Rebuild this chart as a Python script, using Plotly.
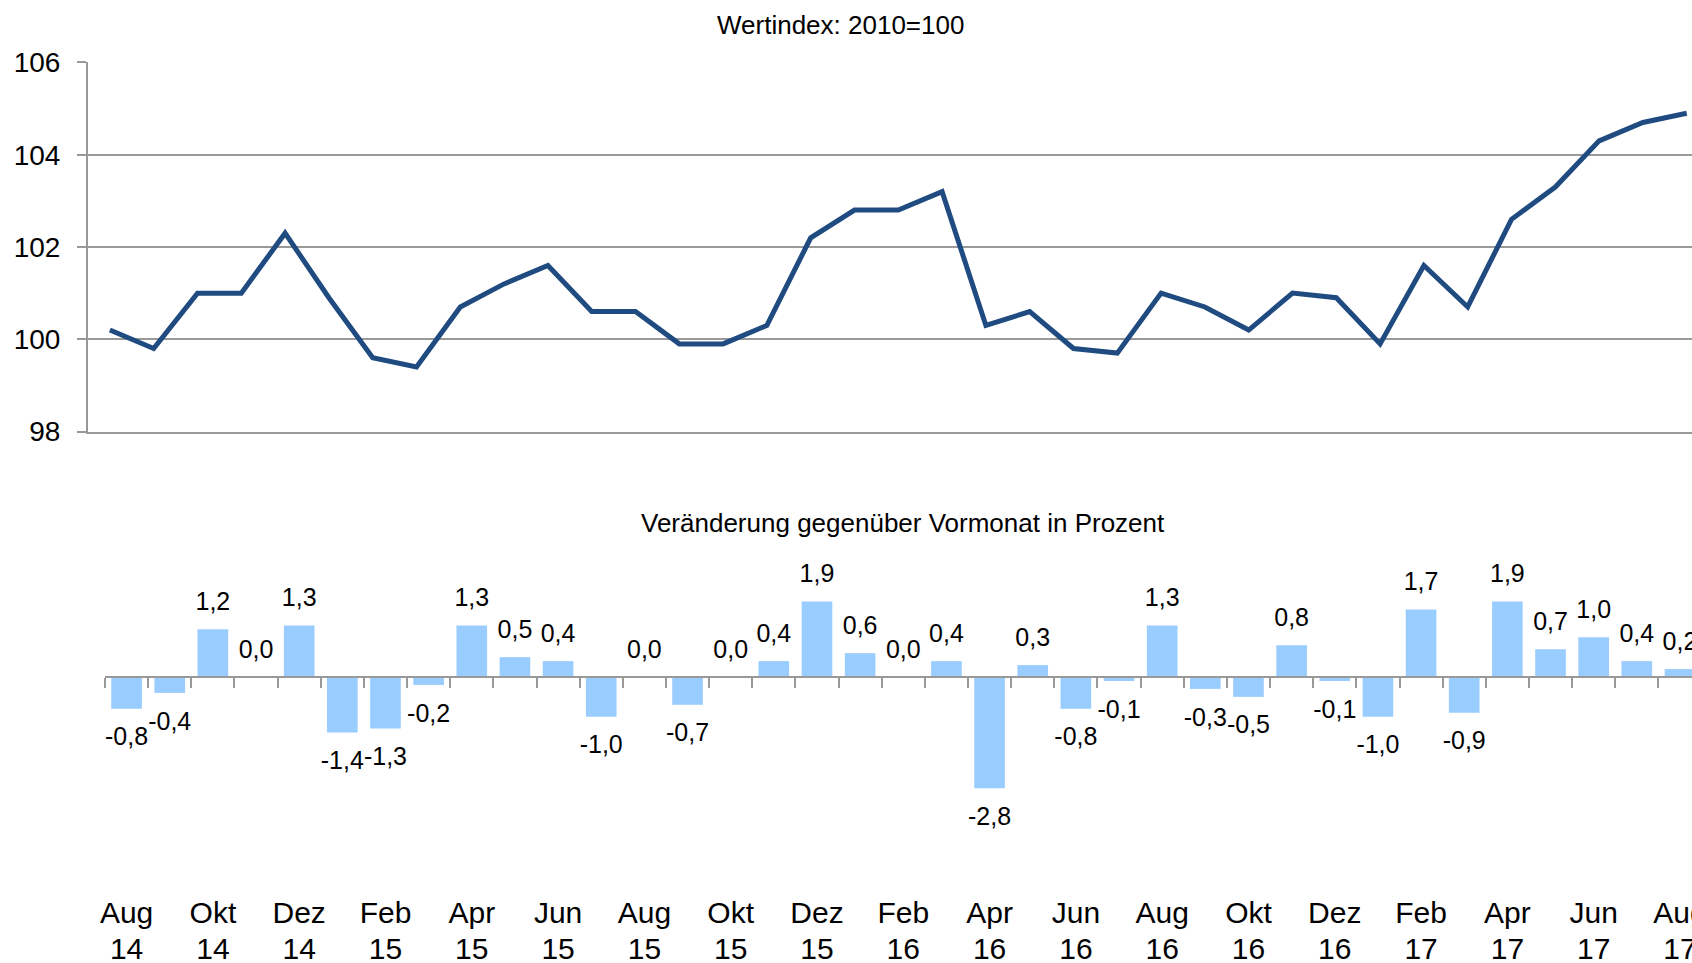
import plotly.graph_objects as go

# ---------------- data ----------------
months = ["Aug 14", "Sep 14", "Okt 14", "Nov 14", "Dez 14", "Jan 15", "Feb 15", "Mär 15",
          "Apr 15", "Mai 15", "Jun 15", "Jul 15", "Aug 15", "Sep 15", "Okt 15", "Nov 15",
          "Dez 15", "Jan 16", "Feb 16", "Mär 16", "Apr 16", "Mai 16", "Jun 16", "Jul 16",
          "Aug 16", "Sep 16", "Okt 16", "Nov 16", "Dez 16", "Jan 17", "Feb 17", "Mär 17",
          "Apr 17", "Mai 17", "Jun 17", "Jul 17", "Aug 17"]

index_values = [100.2, 99.8, 101.0, 101.0, 102.3, 100.9, 99.6, 99.4,
                100.7, 101.2, 101.6, 100.6, 100.6, 99.9, 99.9, 100.3,
                102.2, 102.8, 102.8, 103.2, 100.3, 100.6, 99.8, 99.7,
                101.0, 100.7, 100.2, 101.0, 100.9, 99.9, 101.6, 100.7,
                102.6, 103.3, 104.3, 104.7, 104.9]

change_values = [-0.8, -0.4, 1.2, 0.0, 1.3, -1.4, -1.3, -0.2,
                 1.3, 0.5, 0.4, -1.0, 0.0, -0.7, 0.0, 0.4,
                 1.9, 0.6, 0.0, 0.4, -2.8, 0.3, -0.8, -0.1,
                 1.3, -0.3, -0.5, 0.8, -0.1, -1.0, 1.7, -0.9,
                 1.9, 0.7, 1.0, 0.4, 0.2]

month_labels = ["Aug", "Okt", "Dez", "Feb", "Apr", "Jun", "Aug", "Okt", "Dez", "Feb",
                "Apr", "Jun", "Aug", "Okt", "Dez", "Feb", "Apr", "Jun", "Aug"]
year_labels = ["14", "14", "14", "15", "15", "15", "15", "15", "15", "16",
               "16", "16", "16", "16", "16", "17", "17", "17", "17"]

y_ticks = [98, 100, 102, 104, 106]

title_top = "Wertindex: 2010=100"
title_bottom = "Veränderung gegenüber Vormonat in Prozent"

# ---------------- layout helpers ----------------
W, H = 1692, 963
FONT = "Arial, Liberation Sans, sans-serif"
GREY = "#999999"
LINE_COLOR = "#1F4B80"
BAR_COLOR = "#99CCFF"

idx = list(range(len(months)))
tick_pos = idx[::2]
bound_pos = [i - 0.5 for i in range(len(months) + 1)]
bar_text = [f"{v:.1f}".replace(".", ",") for v in change_values]
text_pos = ["bottom center" if v < 0 else "top center" for v in change_values]
label_gap = [27 if v < 0 else 19 for v in change_values]


def fy(p):
    return 1 - p / H


# top panel geometry (pixels)
top_left, top_top, top_bottom, top_cat = 88, 62, 432, 43.8
# bottom panel geometry
bot_left, bot_cat = 105, 43.15
zero_px, unit_px = 677, 39.7
bot_top_px, bot_bottom_px = 560, 892
year_axis_px = 928
x_range_bottom = [-0.5, (W - bot_left) / bot_cat - 0.5]

fig = go.Figure()

fig.add_trace(go.Scatter(
    x=idx, y=index_values, mode="lines",
    line=dict(color=LINE_COLOR, width=5),
    xaxis="x", yaxis="y", showlegend=False, hoverinfo="x+y"))

fig.add_trace(go.Bar(
    x=idx, y=change_values, marker=dict(color=BAR_COLOR, line=dict(width=0)),
    xaxis="x2", yaxis="y2", showlegend=False))

# value labels above / below the bars
fig.add_trace(go.Scatter(
    x=idx, y=change_values, mode="markers+text",
    marker=dict(size=label_gap, color="rgba(0,0,0,0)", line=dict(width=0)),
    text=bar_text, textposition=text_pos, cliponaxis=False,
    textfont=dict(family=FONT, size=25, color="black"),
    xaxis="x2", yaxis="y2", showlegend=False, hoverinfo="skip"))

# dummy traces so the overlay axes are drawn
fig.add_trace(go.Scatter(x=[None], y=[None], xaxis="x3", yaxis="y2",
                         showlegend=False, hoverinfo="skip"))
fig.add_trace(go.Scatter(x=[None], y=[None], xaxis="x4", yaxis="y2",
                         showlegend=False, hoverinfo="skip"))

fig.update_layout(
    template="none",
    width=W, height=H, autosize=False,
    margin=dict(l=0, r=0, t=0, b=0, pad=0),
    paper_bgcolor="white", plot_bgcolor="white",
    font=dict(family=FONT, color="black"),
    bargap=0.29,
    showlegend=False,
    xaxis=dict(domain=[top_left / W, 1],
               range=[-0.5, (W - top_left) / top_cat - 0.5],
               showgrid=False, zeroline=False, showticklabels=False, ticks="",
               showline=True, linecolor=GREY, linewidth=2, anchor="y",
               automargin=False),
    yaxis=dict(domain=[fy(top_bottom), fy(top_top)],
               range=[97.99, 106.01], tickmode="array", tickvals=y_ticks,
               ticktext=[str(t) for t in y_ticks],
               showgrid=True, gridcolor=GREY, gridwidth=2, zeroline=False,
               showline=True, linecolor=GREY, linewidth=2,
               ticks="outside", ticklen=9, tickwidth=2, tickcolor=GREY,
               tickfont=dict(size=28, family=FONT, color="black"), ticklabelstandoff=11,
               anchor="x", automargin=False),
    xaxis2=dict(domain=[bot_left / W, 1], range=x_range_bottom,
                tickmode="array", tickvals=tick_pos, ticktext=month_labels,
                ticks="", showline=False, showgrid=False, zeroline=False,
                tickfont=dict(size=30, family=FONT, color="black"), anchor="y2",
                ticklabeloverflow="allow", automargin=False),
    yaxis2=dict(domain=[fy(bot_bottom_px), fy(bot_top_px)],
                range=[-(bot_bottom_px - zero_px) / unit_px, (zero_px - bot_top_px) / unit_px],
                visible=False, showgrid=False, zeroline=False, anchor="x2",
                automargin=False),
    xaxis3=dict(overlaying="x2", anchor="free", position=fy(zero_px),
                range=x_range_bottom,
                tickmode="array", tickvals=bound_pos, showticklabels=False,
                ticks="outside", ticklen=10, tickwidth=2, tickcolor=GREY,
                showline=True, linecolor=GREY, linewidth=2,
                showgrid=False, zeroline=False, layer="above traces",
                automargin=False),
    xaxis4=dict(overlaying="x2", anchor="free", position=fy(year_axis_px),
                range=x_range_bottom,
                tickmode="array", tickvals=tick_pos, ticktext=year_labels,
                ticks="", showline=False, showgrid=False, zeroline=False,
                tickfont=dict(size=30, family=FONT, color="black"),
                ticklabeloverflow="allow", automargin=False),
    annotations=[
        dict(text=title_top, x=840 / W, y=fy(25), xref="paper", yref="paper",
             xanchor="center", yanchor="middle", showarrow=False,
             font=dict(size=26, family=FONT, color="black")),
        dict(text=title_bottom, x=903 / W, y=fy(523), xref="paper", yref="paper",
             xanchor="center", yanchor="middle", showarrow=False,
             font=dict(size=26, family=FONT, color="black")),
    ],
)

fig.write_html("out.html", config={"displayModeBar": False},
               post_script="document.body.style.margin='0';document.body.style.overflow='hidden';")
